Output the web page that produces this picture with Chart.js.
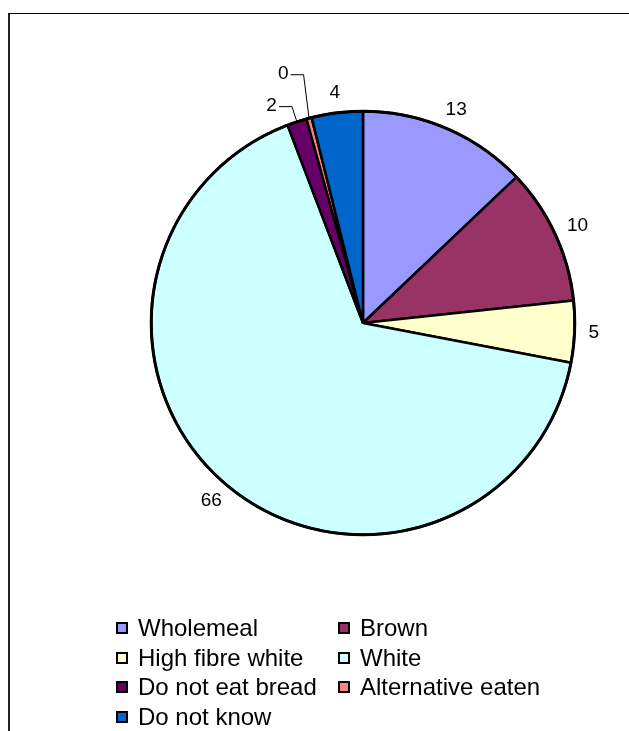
<!DOCTYPE html>
<html>
<head>
<meta charset="utf-8">
<script src="https://cdn.jsdelivr.net/npm/chart.js@4/dist/chart.umd.min.js"></script>
<style>
  html, body { margin: 0; padding: 0; background: #fff; overflow: hidden; }
  body { width: 629px; height: 731px; position: relative; font-family: "Liberation Sans", Arial, sans-serif; }
  .frame { position: absolute; left: 8px; top: 13px; width: 700px; height: 800px;
           border-left: 2px solid #222; border-top: 1px solid #000; }
  .js-chart { position: absolute; left: 0; top: 0; }
  .legend { position: absolute; left: 116px; top: 613px; display: grid;
            grid-template-columns: 222px auto; grid-auto-rows: 29.7px; }
  .legend div { display: flex; align-items: center; font-size: 24px; color: #000; white-space: nowrap; }
  .legend span { display: inline-block; width: 8px; height: 8px; border: 2px solid #000; margin-right: 10px; }
</style>
</head>
<body>
<div class="frame"></div>
<canvas class="js-chart" width="629" height="731"></canvas>
<div class="legend js-legend"></div>
<script>
const categories = ['Wholemeal', 'Brown', 'High fibre white', 'White', 'Do not eat bread', 'Alternative eaten', 'Do not know'];
const values = [12.9, 10.4, 4.7, 66.2, 1.5, 0.4, 3.9];
const colors = ['#9999FF', '#993366', '#FFFFCC', '#CCFFFF', '#660066', '#FF8080', '#0066CC'];

// 値ラベル（小さい扇形は引き出し線付き）
const valueLabels = {
  id: 'valueLabels',
  afterDatasetsDraw(chart) {
    const ctx = chart.ctx;
    const arcs = chart.getDatasetMeta(0).data;
    ctx.save();
    ctx.font = '19px "Liberation Sans", Arial, sans-serif';
    ctx.fillStyle = '#000';
    ctx.strokeStyle = '#000';
    ctx.lineWidth = 1;
    ctx.textBaseline = 'middle';

    // 外周を太めに
    const a0 = arcs[0];
    ctx.beginPath();
    ctx.arc(a0.x, a0.y, a0.outerRadius, 0, Math.PI * 2);
    ctx.lineWidth = 3;
    ctx.stroke();
    ctx.lineWidth = 1;

    let stack = 0;
    arcs.forEach((arc, i) => {
      const text = String(Math.round(values[i]));
      const mid = (arc.startAngle + arc.endAngle) / 2;
      const dx = Math.cos(mid);
      const dy = Math.sin(mid);
      const r = arc.outerRadius;
      if (values[i] < 3) {
        // 引き出し線
        const ex = arc.x + dx * r;
        const ey = arc.y + dy * r;
        const er = r + 16 + stack * 29;
        const kx = arc.x + dx * er + stack * 6;
        const ky = arc.y + dy * er;
        ctx.beginPath();
        ctx.moveTo(ex, ey);
        ctx.lineTo(kx, ky);
        ctx.lineTo(kx - 13, ky);
        ctx.stroke();
        ctx.textAlign = 'right';
        ctx.fillText(text, kx - 15, ky - 1);
        stack++;
        return;
      }
      const w = ctx.measureText(text).width;
      const h = 13;
      const x = arc.x + dx * (r + 14) + dx * w / 2;
      const y = arc.y + dy * (r + 14) + dy * h / 2;
      ctx.textAlign = 'center';
      ctx.fillText(text, x, y);
    });
    ctx.restore();
  }
};

const $chart = document.querySelector('.js-chart');
const chart = new Chart($chart, {
  type: 'pie',
  data: {
    labels: categories,
    datasets: [{
      data: values,
      backgroundColor: colors,
      borderColor: '#000',
      borderWidth: 2.5
    }]
  },
  options: {
    responsive: false,
    animation: false,
    layout: {
      padding: { left: 150, right: 53, top: 110, bottom: 195 }
    },
    plugins: {
      legend: { display: false },
      tooltip: { enabled: false },
      title: { display: false }
    }
  },
  plugins: [valueLabels]
});

// 凡例
const $legend = document.querySelector('.js-legend');
chart.data.labels.forEach((label, i) => {
  const item = document.createElement('div');
  const box = document.createElement('span');
  box.style.background = chart.data.datasets[0].backgroundColor[i];
  item.appendChild(box);
  item.appendChild(document.createTextNode(label));
  $legend.appendChild(item);
});
</script>
</body>
</html>
